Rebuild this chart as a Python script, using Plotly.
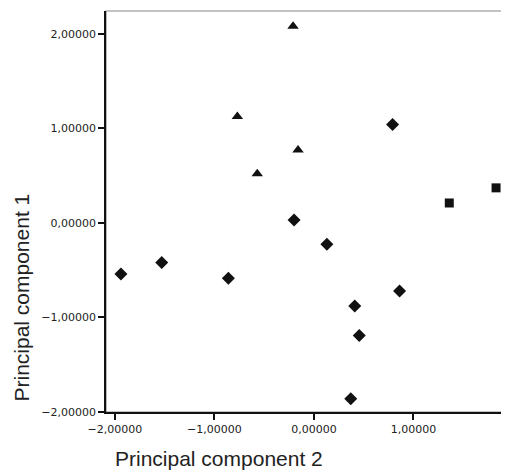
import plotly.graph_objects as go

# Data (Principal component 2 on x, Principal component 1 on y)
tri_pc2 = [-0.21, -0.77, -0.16, -0.57]
tri_pc1 = [2.08, 1.125, 0.77, 0.52]

sq_pc2 = [1.36, 1.83]
sq_pc1 = [0.21, 0.37]

dia_pc2 = [0.79, -0.20, 0.13, -1.94, -1.53, -0.86, 0.86, 0.41, 0.455, 0.37]
dia_pc1 = [1.04, 0.03, -0.225, -0.54, -0.42, -0.585, -0.72, -0.88, -1.19, -1.86]

tick_vals = [-2, -1, 0, 1, 2]

fig = go.Figure()
fig.add_trace(go.Scatter(x=tri_pc2, y=tri_pc1, mode="markers",
                         marker=dict(symbol="triangle-up", size=10, color="#111111"),
                         showlegend=False))
fig.add_trace(go.Scatter(x=sq_pc2, y=sq_pc1, mode="markers",
                         marker=dict(symbol="square", size=9, color="#111111"),
                         showlegend=False))
fig.add_trace(go.Scatter(x=dia_pc2, y=dia_pc1, mode="markers",
                         marker=dict(symbol="diamond", size=10, color="#111111"),
                         showlegend=False))

# grey frame (top/right)
fig.add_shape(type="rect", xref="paper", yref="paper", x0=0, y0=0, x1=1, y1=1,
              line=dict(color="#888888", width=1.2), layer="below")

tick_font = dict(family="DejaVu Sans, Arial, sans-serif", size=11, color="#222222")
fig.update_xaxes(range=[-2.09, 1.95], tickvals=tick_vals[:4], tickformat=".5f",
                 showgrid=False, zeroline=False, showline=True, linecolor="#111111",
                 linewidth=1.5, ticks="outside", ticklen=6, tickwidth=1.5,
                 tickcolor="#111111", tickfont=tick_font)
fig.update_yaxes(range=[-2.0, 2.24], tickvals=tick_vals, tickformat=".5f",
                 showgrid=False, zeroline=False, showline=True, linecolor="#111111",
                 linewidth=1.5, ticks="outside", ticklen=6, tickwidth=1.5,
                 tickcolor="#111111", tickfont=tick_font)

title_font = dict(family="Liberation Sans, Arial, sans-serif", size=21, color="#222222")
fig.add_annotation(text="Principal component 2", xref="paper", yref="paper",
                   x=0.281, y=-0.117, showarrow=False, font=title_font,
                   xanchor="center", yanchor="middle")
fig.add_annotation(text="Principal component 1", xref="paper", yref="paper",
                   x=-0.2114, y=0.2855, showarrow=False, font=title_font,
                   textangle=-90, xanchor="center", yanchor="middle")

fig.update_layout(width=501, height=464, separators=",.",
                  margin=dict(l=98, r=1, t=3, b=60),
                  plot_bgcolor="white", paper_bgcolor="white")

fig.write_html("out.html")
